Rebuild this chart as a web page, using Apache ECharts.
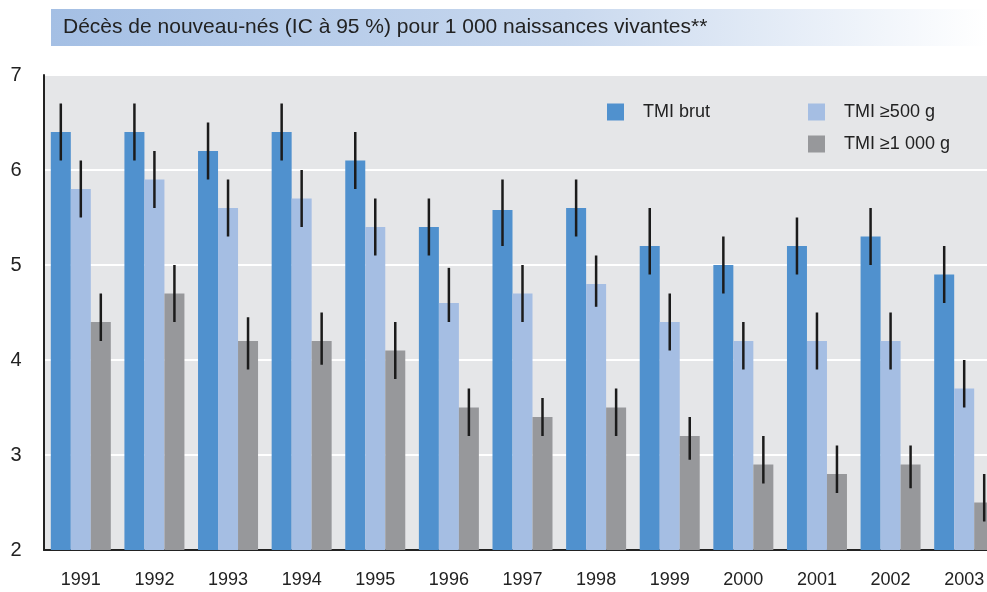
<!DOCTYPE html>
<html style="height: 100%">
<head>
    <meta charset="utf-8">
</head>
<body style="height: 100%; margin: 0">
<div id="container" style="width: 987px; height: 592px"></div>
<script type="text/javascript" src="https://cdn.jsdelivr.net/npm/echarts@6/dist/echarts.min.js"></script>
<script type="text/javascript">
    var years = ['1991','1992','1993','1994','1995','1996','1997','1998','1999','2000','2001','2002','2003'];
    var seriesNames = ['TMI brut', 'TMI \u2265500 g', 'TMI \u22651 000 g'];
    // valeurs
    var brut    = [6.4, 6.4, 6.2, 6.4, 6.1, 5.4, 5.58, 5.6, 5.2, 5.0, 5.2, 5.3, 4.9];
    var brutLo  = [6.1, 6.1, 5.9, 6.1, 5.8, 5.1, 5.2, 5.3, 4.9, 4.7, 4.9, 5.0, 4.6];
    var brutHi  = [6.7, 6.7, 6.5, 6.7, 6.4, 5.7, 5.9, 5.9, 5.6, 5.3, 5.5, 5.6, 5.2];
    var g500    = [5.8, 5.9, 5.6, 5.7, 5.4, 4.6, 4.7, 4.8, 4.4, 4.2, 4.2, 4.2, 3.7];
    var g500Lo  = [5.5, 5.6, 5.3, 5.4, 5.1, 4.4, 4.4, 4.56, 4.1, 3.9, 3.9, 3.9, 3.5];
    var g500Hi  = [6.1, 6.2, 5.9, 6.0, 5.7, 4.97, 5.0, 5.1, 4.7, 4.4, 4.5, 4.5, 4.0];
    var g1000   = [4.4, 4.7, 4.2, 4.2, 4.1, 3.5, 3.4, 3.5, 3.2, 2.9, 2.8, 2.9, 2.5];
    var g1000Lo = [4.2, 4.4, 3.9, 3.95, 3.8, 3.2, 3.2, 3.2, 2.95, 2.7, 2.6, 2.65, 2.3];
    var g1000Hi = [4.7, 5.0, 4.45, 4.5, 4.4, 3.7, 3.6, 3.7, 3.4, 3.2, 3.1, 3.1, 2.8];
    var yTicks = ['2','3','4','5','6','7'];

    var colors = ['#5091ce', '#a5bee3', '#97989b'];
    var font = '"Liberation Sans Narrow", "Liberation Sans", Arial, sans-serif';

    function errData(lo, hi) {
        var d = [];
        for (var i = 0; i < lo.length; i++) d.push([i, lo[i], hi[i]]);
        return d;
    }
    function errSeries(lo, hi, off) {
        return {
            type: 'custom',
            z: 10,
            silent: true,
            clip: false,
            data: errData(lo, hi),
            renderItem: function (params, api) {
                var a = api.coord([api.value(0), api.value(1)]);
                var b = api.coord([api.value(0), api.value(2)]);
                return {
                    type: 'line',
                    shape: {x1: a[0] + off, y1: a[1], x2: b[0] + off, y2: b[1]},
                    style: {stroke: '#1b1b1b', lineWidth: 2.5}
                };
            }
        };
    }

    var dom = document.getElementById("container");
    var myChart = echarts.init(dom);
    var option = {
        backgroundColor: '#ffffff',
        animation: false,
        textStyle: {fontFamily: font},
        graphic: [
            {
                type: 'rect',
                shape: {x: 51, y: 9, width: 936, height: 37},
                style: {
                    fill: new echarts.graphic.LinearGradient(0, 0, 1, 0, [
                        {offset: 0, color: '#a4bfe4'},
                        {offset: 0.55, color: '#c8d8ee'},
                        {offset: 1, color: '#ffffff'}
                    ])
                }
            },
            {
                type: 'text',
                left: 63,
                top: 17,
                style: {
                    text: 'Décès de nouveau-nés (IC à 95 %) pour 1 000 naissances vivantes**',
                    font: '21px ' + font,
                    fill: '#222222'
                }
            }
        ],
        legend: [
            {
                data: [seriesNames[0]],
                left: 602,
                top: 98,
                icon: 'rect',
                itemWidth: 17,
                itemHeight: 17,
                textStyle: {fontSize: 18, color: '#222', fontFamily: font, padding: [0, 0, 0, 14]}
            },
            {
                data: [seriesNames[1], seriesNames[2]],
                orient: 'vertical',
                left: 803,
                top: 98,
                icon: 'rect',
                itemGap: 14,
                itemWidth: 17,
                itemHeight: 17,
                textStyle: {fontSize: 18, color: '#222', fontFamily: font, padding: [0, 0, 0, 14]}
            }
        ],
        grid: {
            left: 44,
            top: 75,
            bottom: 42,
            right: -14,
            outerBoundsMode: 'none',
            show: true,
            backgroundColor: '#e5e6e8',
            borderWidth: 0
        },
        xAxis: {
            type: 'category',
            data: years,
            axisLine: {lineStyle: {color: '#222', width: 2}},
            axisTick: {show: false},
            axisLabel: {fontSize: 18, color: '#222', margin: 21, fontFamily: font}
        },
        yAxis: {
            type: 'value',
            min: 2,
            max: 7,
            interval: 1,
            axisLine: {show: true, lineStyle: {color: '#222', width: 2}},
            axisTick: {show: false},
            axisLabel: {fontSize: 20, color: '#222', margin: 28, align: 'center', fontFamily: font,
                formatter: function (v) { return yTicks[v - 2]; }},
            splitLine: {lineStyle: {color: '#ffffff', width: 2}}
        },
        series: [
            {name: seriesNames[0], type: 'bar', data: brut, barWidth: 20, barGap: '0%', itemStyle: {color: colors[0]}},
            {name: seriesNames[1], type: 'bar', data: g500, barWidth: 20, barGap: '0%', itemStyle: {color: colors[1]}},
            {name: seriesNames[2], type: 'bar', data: g1000, barWidth: 20, barGap: '0%', itemStyle: {color: colors[2]}},
            errSeries(brutLo, brutHi, -20),
            errSeries(g500Lo, g500Hi, 0),
            errSeries(g1000Lo, g1000Hi, 20)
        ]
    };
    myChart.setOption(option);
</script>
</body>
</html>
